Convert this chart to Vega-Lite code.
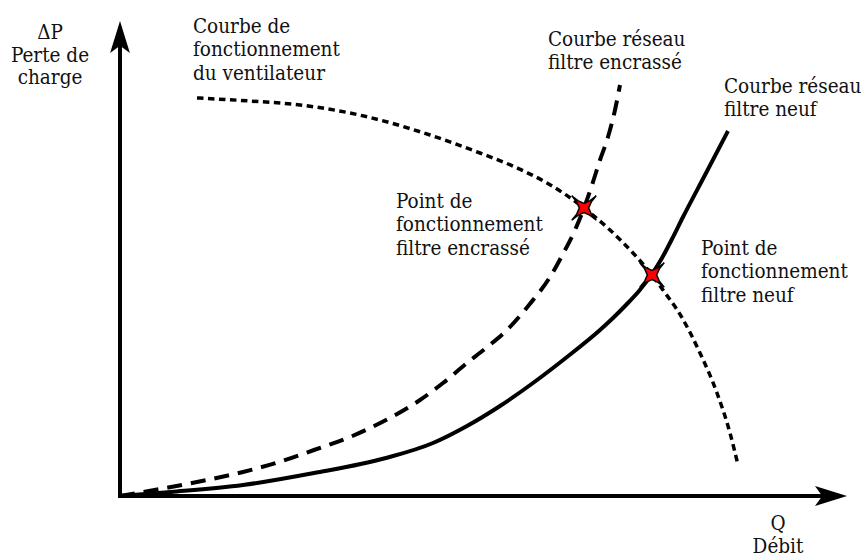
{
  "$schema": "https://vega.github.io/schema/vega-lite/v6.json",
  "width": 861,
  "height": 557,
  "padding": 0,
  "autosize": "none",
  "background": "white",
  "config": {"view": {"stroke": null}},
  "datasets": {
    "curves": [
      {"curve": "fan", "q": 7.7, "p": 39.8},
      {"curve": "fan", "q": 13.0, "p": 39.5},
      {"curve": "fan", "q": 18.0, "p": 39.1},
      {"curve": "fan", "q": 23.0, "p": 38.3},
      {"curve": "fan", "q": 26.0, "p": 37.6},
      {"curve": "fan", "q": 31.0, "p": 36.1},
      {"curve": "fan", "q": 36.0, "p": 34.3},
      {"curve": "fan", "q": 39.5, "p": 32.9},
      {"curve": "fan", "q": 42.7, "p": 31.3},
      {"curve": "fan", "q": 46.4, "p": 28.8},
      {"curve": "fan", "q": 49.0, "p": 26.6},
      {"curve": "fan", "q": 51.3, "p": 24.3},
      {"curve": "fan", "q": 53.2, "p": 22.1},
      {"curve": "fan", "q": 54.3, "p": 20.6},
      {"curve": "fan", "q": 56.1, "p": 18.0},
      {"curve": "fan", "q": 58.0, "p": 14.3},
      {"curve": "fan", "q": 59.7, "p": 10.3},
      {"curve": "fan", "q": 61.0, "p": 6.3},
      {"curve": "fan", "q": 61.8, "p": 3.1},
      {"curve": "encrasse", "q": 0.0, "p": 0.0},
      {"curve": "encrasse", "q": 5.1, "p": 0.9},
      {"curve": "encrasse", "q": 8.7, "p": 1.6},
      {"curve": "encrasse", "q": 12.3, "p": 2.4},
      {"curve": "encrasse", "q": 15.9, "p": 3.4},
      {"curve": "encrasse", "q": 19.4, "p": 4.6},
      {"curve": "encrasse", "q": 23.0, "p": 5.9},
      {"curve": "encrasse", "q": 26.6, "p": 7.6},
      {"curve": "encrasse", "q": 30.0, "p": 9.6},
      {"curve": "encrasse", "q": 32.3, "p": 11.3},
      {"curve": "encrasse", "q": 34.7, "p": 13.3},
      {"curve": "encrasse", "q": 36.6, "p": 14.8},
      {"curve": "encrasse", "q": 38.7, "p": 16.6},
      {"curve": "encrasse", "q": 40.9, "p": 19.1},
      {"curve": "encrasse", "q": 43.0, "p": 21.9},
      {"curve": "encrasse", "q": 44.4, "p": 24.4},
      {"curve": "encrasse", "q": 45.5, "p": 26.6},
      {"curve": "encrasse", "q": 46.4, "p": 28.8},
      {"curve": "encrasse", "q": 47.2, "p": 31.1},
      {"curve": "encrasse", "q": 48.0, "p": 33.6},
      {"curve": "encrasse", "q": 48.8, "p": 35.9},
      {"curve": "encrasse", "q": 49.5, "p": 38.6},
      {"curve": "encrasse", "q": 50.0, "p": 41.1},
      {"curve": "neuf", "q": 0.0, "p": 0.0},
      {"curve": "neuf", "q": 5.1, "p": 0.4},
      {"curve": "neuf", "q": 12.3, "p": 1.1},
      {"curve": "neuf", "q": 19.4, "p": 2.3},
      {"curve": "neuf", "q": 26.6, "p": 3.8},
      {"curve": "neuf", "q": 31.3, "p": 5.3},
      {"curve": "neuf", "q": 34.7, "p": 7.0},
      {"curve": "neuf", "q": 38.0, "p": 9.0},
      {"curve": "neuf", "q": 41.3, "p": 11.3},
      {"curve": "neuf", "q": 44.7, "p": 13.9},
      {"curve": "neuf", "q": 48.0, "p": 16.6},
      {"curve": "neuf", "q": 49.3, "p": 17.8},
      {"curve": "neuf", "q": 50.6, "p": 19.1},
      {"curve": "neuf", "q": 51.9, "p": 20.5},
      {"curve": "neuf", "q": 53.2, "p": 22.2},
      {"curve": "neuf", "q": 54.2, "p": 23.8},
      {"curve": "neuf", "q": 55.2, "p": 25.7},
      {"curve": "neuf", "q": 56.3, "p": 27.9},
      {"curve": "neuf", "q": 58.5, "p": 32.1},
      {"curve": "neuf", "q": 60.8, "p": 36.5}
    ],
    "axes": [
      {"q1": -0.2, "p1": 0, "q2": 70.4, "p2": 0},
      {"q1": 0, "p1": -0.2, "q2": 0, "p2": 45.2}
    ],
    "points": [
      {"name": "Point de fonctionnement filtre encrassé", "q": 46.4, "p": 28.8},
      {"name": "Point de fonctionnement filtre neuf", "q": 53.2, "p": 22.1}
    ],
    "labels": [
      {"text": "Courbe de\nfonctionnement\ndu ventilateur", "q": 7.3, "p": 46.3},
      {"text": "Courbe réseau\nfiltre encrassé", "q": 42.8, "p": 45.0},
      {"text": "Courbe réseau\nfiltre neuf", "q": 60.4, "p": 40.3},
      {"text": "Point de\nfonctionnement\nfiltre encrassé", "q": 27.6, "p": 28.8},
      {"text": "Point de\nfonctionnement\nfiltre neuf", "q": 58.1, "p": 24.1}
    ],
    "axislabels": [
      {"text": "ΔP\nPerte de\ncharge", "q": -7.0, "p": 45.7},
      {"text": "Q\nDébit", "q": 65.8, "p": -3.4}
    ]
  },
  "layer": [
    {
      "data": {"name": "axes"},
      "mark": {"type": "rule", "color": "black", "strokeWidth": 4, "strokeCap": "butt"},
      "encoding": {
        "x": {"field": "q1", "type": "quantitative", "scale": {"domain": [-12, 74.1], "nice": false, "zero": false}, "axis": null},
        "x2": {"field": "q2"},
        "y": {"field": "p1", "type": "quantitative", "scale": {"domain": [-6.1, 49.6], "nice": false, "zero": false}, "axis": null},
        "y2": {"field": "p2"}
      }
    },
    {
      "data": {"values": [{"q": 0, "p": 45.9}]},
      "mark": {"type": "point", "shape": "M0,-1L0.62,1L0,0.55L-0.62,1Z", "size": 1024, "filled": true, "color": "black", "opacity": 1, "strokeWidth": 0},
      "encoding": {
        "x": {"field": "q", "type": "quantitative", "scale": {"domain": [-12, 74.1], "nice": false, "zero": false}, "axis": null},
        "y": {"field": "p", "type": "quantitative", "scale": {"domain": [-6.1, 49.6], "nice": false, "zero": false}, "axis": null}
      }
    },
    {
      "data": {"values": [{"q": 71.1, "p": 0}]},
      "mark": {"type": "point", "shape": "M0,-1L0.62,1L0,0.55L-0.62,1Z", "size": 1024, "angle": 90, "filled": true, "color": "black", "opacity": 1, "strokeWidth": 0},
      "encoding": {
        "x": {"field": "q", "type": "quantitative", "scale": {"domain": [-12, 74.1], "nice": false, "zero": false}, "axis": null},
        "y": {"field": "p", "type": "quantitative", "scale": {"domain": [-6.1, 49.6], "nice": false, "zero": false}, "axis": null}
      }
    },
    {
      "data": {"name": "curves"},
      "transform": [{"filter": "datum.curve === 'neuf'"}],
      "mark": {"type": "line", "interpolate": "monotone", "color": "black", "strokeWidth": 4, "strokeCap": "butt"},
      "encoding": {
        "x": {"field": "q", "type": "quantitative", "scale": {"domain": [-12, 74.1], "nice": false, "zero": false}, "axis": null},
        "y": {"field": "p", "type": "quantitative", "scale": {"domain": [-6.1, 49.6], "nice": false, "zero": false}, "axis": null}
      }
    },
    {
      "data": {"name": "curves"},
      "transform": [{"filter": "datum.curve === 'encrasse'"}],
      "mark": {"type": "line", "interpolate": "monotone", "color": "black", "strokeWidth": 4, "strokeDash": [15, 9], "strokeCap": "butt"},
      "encoding": {
        "x": {"field": "q", "type": "quantitative", "scale": {"domain": [-12, 74.1], "nice": false, "zero": false}, "axis": null},
        "y": {"field": "p", "type": "quantitative", "scale": {"domain": [-6.1, 49.6], "nice": false, "zero": false}, "axis": null}
      }
    },
    {
      "data": {"name": "curves"},
      "transform": [{"filter": "datum.curve === 'fan'"}],
      "mark": {"type": "line", "interpolate": "monotone", "color": "black", "strokeWidth": 3.5, "strokeDash": [6.5, 4.5], "strokeCap": "butt"},
      "encoding": {
        "x": {"field": "q", "type": "quantitative", "scale": {"domain": [-12, 74.1], "nice": false, "zero": false}, "axis": null},
        "y": {"field": "p", "type": "quantitative", "scale": {"domain": [-6.1, 49.6], "nice": false, "zero": false}, "axis": null}
      }
    },
    {
      "data": {"name": "points"},
      "mark": {"type": "point", "shape": "M-1,-1L-0.5,-0.6L0,-0.38L0.5,-0.6L1,-1L0.6,-0.5L0.38,0L0.6,0.5L1,1L0.5,0.6L0,0.38L-0.5,0.6L-1,1L-0.6,0.5L-0.38,0L-0.6,-0.5Z", "size": 600, "filled": true, "fill": "#ff0000", "stroke": "black", "strokeWidth": 1.5, "opacity": 1, "fillOpacity": 1},
      "encoding": {
        "x": {"field": "q", "type": "quantitative", "scale": {"domain": [-12, 74.1], "nice": false, "zero": false}, "axis": null},
        "y": {"field": "p", "type": "quantitative", "scale": {"domain": [-6.1, 49.6], "nice": false, "zero": false}, "axis": null}
      }
    },
    {
      "data": {"name": "labels"},
      "mark": {"type": "text", "lineBreak": "\n", "font": "DejaVu Serif Condensed", "fontSize": 20.5, "lineHeight": 23.3, "align": "left", "baseline": "alphabetic", "color": "#111111"},
      "encoding": {
        "x": {"field": "q", "type": "quantitative", "scale": {"domain": [-12, 74.1], "nice": false, "zero": false}, "axis": null},
        "y": {"field": "p", "type": "quantitative", "scale": {"domain": [-6.1, 49.6], "nice": false, "zero": false}, "axis": null},
        "text": {"field": "text"}
      }
    },
    {
      "data": {"name": "axislabels"},
      "mark": {"type": "text", "lineBreak": "\n", "font": "DejaVu Serif Condensed", "fontSize": 20.5, "lineHeight": 22.5, "align": "center", "baseline": "alphabetic", "color": "#111111"},
      "encoding": {
        "x": {"field": "q", "type": "quantitative", "scale": {"domain": [-12, 74.1], "nice": false, "zero": false}, "axis": null},
        "y": {"field": "p", "type": "quantitative", "scale": {"domain": [-6.1, 49.6], "nice": false, "zero": false}, "axis": null},
        "text": {"field": "text"}
      }
    }
  ]
}
